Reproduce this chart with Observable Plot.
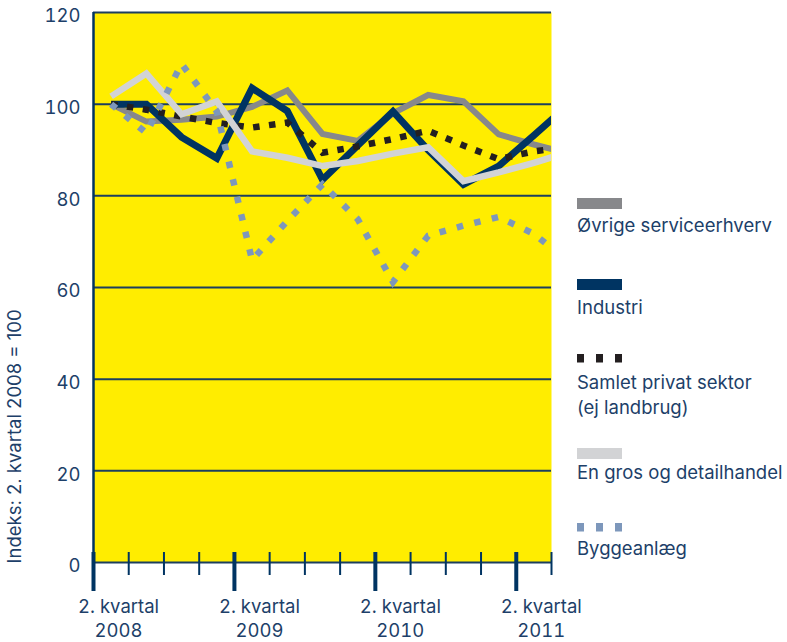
<!DOCTYPE html>
<html>
<head>
<meta charset="utf-8">
<script src="https://cdn.jsdelivr.net/npm/d3@7"></script>
<script src="https://cdn.jsdelivr.net/npm/@observablehq/plot@0.6"></script>
<style>
  html, body { margin: 0; padding: 0; background: #ffffff; }
  #wrap { position: relative; width: 787px; height: 642px; overflow: hidden; }
  #wrap svg { position: absolute; left: 0; top: 0; }
</style>
</head>
<body>
<div id="wrap"></div>
<script>
// ---- data (index: 2. kvartal 2008 = 100) ----
const quarters = ["2008K2","2008K3","2008K4","2009K1","2009K2","2009K3","2009K4",
                  "2010K1","2010K2","2010K3","2010K4","2011K1","2011K2","2011K3"];
const ovrige   = [100, 96.2, 96.6, 97.3, 99.4, 103.0, 93.5, 92.0, 98.0, 102.0, 100.6, 93.4, 91.2, 89.2];
const industri = [100, 100.0, 92.8, 88.2, 103.5, 98.5, 83.5, 91.0, 98.4, 90.0, 82.5, 86.5, 93.2, 100.0];
const samlet   = [100, 98.8, 97.3, 95.9, 94.9, 96.0, 89.4, 90.8, 92.4, 94.2, 91.0, 88.0, 89.7, 90.7];
const engros   = [101.7, 106.7, 97.8, 100.6, 89.7, 88.3, 86.5, 87.6, 89.2, 90.6, 83.2, 85.1, 87.2, 89.6];
const bygge    = [100, 93.7, 108.8, 98.4, 66.0, 74.5, 82.5, 74.9, 61.2, 71.3, 73.5, 75.4, 71.7, 65.6];

const seriesNames = ["Øvrige serviceerhverv", "Industri", "Samlet privat sektor\n(ej landbrug)",
                     "En gros og detailhandel", "Byggeanlæg"];
const yTicks = [0, 20, 40, 60, 80, 100, 120];
const tickYears = [2008, 2009, 2010, 2011];
const tickPrefix = "2. kvartal";
const yTitle = "Indeks: 2. kvartal 2008 = 100";

// ---- styles ----
const YELLOW = "#ffed00", NAVY = "#003462", TEXT = "#1d3f69", GRID = "#1c3f5e";
const FONT = "Inter, 'DejaVu Sans', sans-serif";
const styles = [
  {color: "#87888b", width: 6,   dash: null},
  {color: NAVY,      width: 7,   dash: null},
  {color: "#231f20", width: 6.5, dash: "6.5,9.5"},
  {color: "#d2d3d5", width: 6.5, dash: null},
  {color: "#7d97bb", width: 6.5, dash: "6.5,11.5"}
];
const seriesValues = [ovrige, industri, samlet, engros, bygge];
const drawOrder = [0, 1, 2, 3, 4];

const rows = seriesValues.map(vals => quarters.map((q, i) => ({q, x: i + 0.5, y: vals[i]})));
const qIdx = quarters.map((q, i) => i);
const majorIdx = qIdx.filter(i => i % 4 === 0);
const minorIdx = qIdx.filter(i => i % 4 !== 0);

const lineMarks = drawOrder.map(k => Plot.line(rows[k], {
  x: "x", y: "y", stroke: styles[k].color, strokeWidth: styles[k].width,
  strokeDasharray: styles[k].dash || undefined,
  strokeLinejoin: "miter", strokeLinecap: "butt", strokeMiterlimit: 10,
  clip: true
}));

const chart = Plot.plot({
  width: 787, height: 642,
  marginLeft: 93, marginRight: 236, marginTop: 12, marginBottom: 80,
  x: {domain: [0, quarters.length - 1]},
  y: {domain: [0, 120]},
  style: {fontFamily: FONT, fontSize: "18.5px", color: TEXT, background: "transparent", overflow: "visible"},
  marks: [
    Plot.frame({fill: YELLOW, stroke: null}),
    Plot.ruleY(yTicks.filter(d => d > 0), {y: d => d, stroke: GRID, strokeWidth: 2}),
    ...lineMarks,
    Plot.ruleY([0], {stroke: GRID, strokeWidth: 2}),
    Plot.ruleX(minorIdx, {x: d => d, stroke: NAVY, strokeWidth: 2, insetTop: 540, insetBottom: -13}),
    Plot.ruleX(majorIdx, {x: d => d, stroke: NAVY, strokeWidth: 4, insetTop: 540, insetBottom: -29}),
    Plot.ruleX([0], {stroke: NAVY, strokeWidth: 2.5}),
    Plot.axisY({ticks: yTicks, tickSize: 0, tickPadding: 13, dy: 4, label: null,
                fontSize: 18.5, fill: TEXT}),
    Plot.axisX({ticks: majorIdx, tickSize: 0, tickPadding: 33, dx: 25, label: null,
                fontSize: 18.5, fill: TEXT, lineHeight: 1.3,
                tickFormat: i => `${tickPrefix}\n${tickYears[i / 4]}`}),
    Plot.text([yTitle], {frameAnchor: "bottom-left", rotate: -90, textAnchor: "start",
                dx: -73, dy: 1, fontSize: 18.5, fill: TEXT})
  ]
});
document.getElementById("wrap").appendChild(chart);

// ---- legend (right side) ----
const legendX = 577;
const swatchTop = [198, 279, 354, 448, 523];
const textBaseline = [231.5, 313.5, 388.5, 478.5, 555];
const leg = d3.create("svg").attr("width", 787).attr("height", 642)
  .style("font-family", FONT).style("font-size", "18.5px");
seriesNames.forEach((name, k) => {
  const st = styles[k];
  if (st.dash) {
    [0, 1, 2].forEach(j => leg.append("rect")
      .attr("x", legendX + j * 19).attr("y", swatchTop[k])
      .attr("width", 7).attr("height", 8.5).attr("fill", st.color));
  } else {
    leg.append("rect").attr("x", legendX).attr("y", swatchTop[k])
      .attr("width", 45).attr("height", 11).attr("fill", st.color);
  }
  name.split("\n").forEach((line, j) => leg.append("text")
    .attr("x", legendX).attr("y", textBaseline[k] + j * 25)
    .attr("fill", TEXT).text(line));
});
document.getElementById("wrap").appendChild(leg.node());
</script>
</body>
</html>
